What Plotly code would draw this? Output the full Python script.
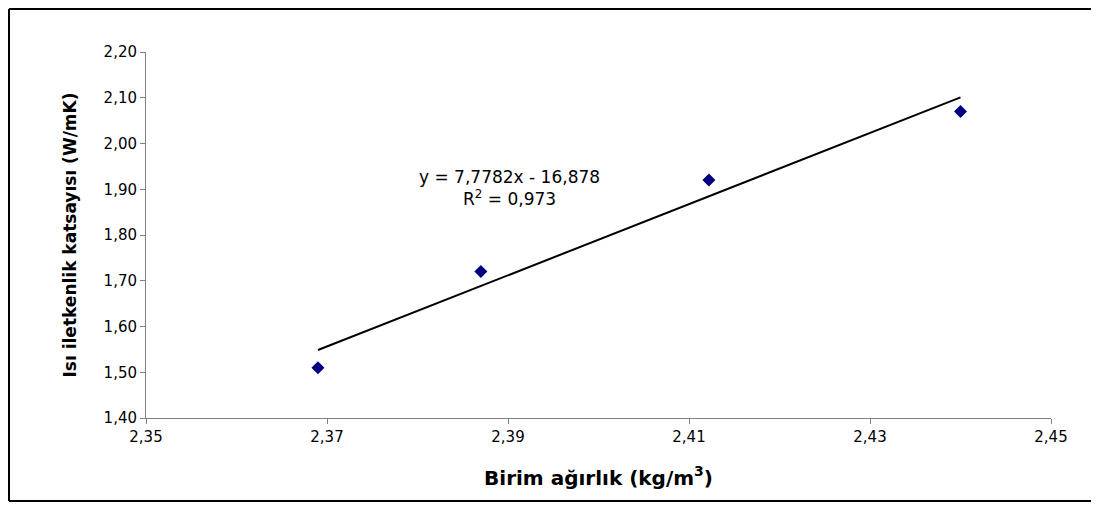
import plotly.graph_objects as go

# Data
birim_agirlik = [2.369, 2.387, 2.4122, 2.44]
isi_iletkenlik = [1.51, 1.72, 1.92, 2.07]
slope = 7.7782
intercept = -16.878
equation_text = "y = 7,7782x - 16,878"
r_squared_text = "0,973"
x_ticks = [2.35, 2.37, 2.39, 2.41, 2.43, 2.45]
y_ticks = [1.40, 1.50, 1.60, 1.70, 1.80, 1.90, 2.00, 2.10, 2.20]

# page has an 8px body margin, so the figure is 8px smaller
W, H = 1091, 498
L, R, T, B = 138, 48, 44, 88
pw, ph = W - L - R, H - T - B

fit_x = [min(birim_agirlik), max(birim_agirlik)]
fit_y = [slope * v + intercept for v in fit_x]

fig = go.Figure()
fig.add_trace(go.Scatter(x=fit_x, y=fit_y, mode="lines",
                         line=dict(color="black", width=2), showlegend=False, hoverinfo="skip"))
fig.add_trace(go.Scatter(x=birim_agirlik, y=isi_iletkenlik, mode="markers",
                         marker=dict(symbol="diamond", color="#000080", size=10),
                         showlegend=False))

font_family = "DejaVu Sans, Liberation Sans, Arial, sans-serif"
fig.update_layout(
    width=W, height=H,
    margin=dict(l=L, r=R, t=T, b=B),
    paper_bgcolor="white", plot_bgcolor="white",
    separators=", ",
    font=dict(family=font_family, size=15, color="black"),
    showlegend=False,
    xaxis=dict(range=[2.35, 2.45], tickvals=x_ticks, tickformat=".2f",
               showgrid=False, zeroline=False, showline=True, linecolor="#808080", linewidth=1,
               ticks="outside", ticklen=5, tickcolor="#808080",
               title=dict(text="<b>Birim ağırlık (kg/m<sup>3</sup>)</b>", font=dict(size=20), standoff=25)),
    yaxis=dict(range=[1.40, 2.20], tickvals=y_ticks, tickformat=".2f",
               showgrid=False, zeroline=False, showline=True, linecolor="#808080", linewidth=1,
               ticks="outside", ticklen=5, tickcolor="#808080",
               title=dict(text="<b>Isı iletkenlik katsayısı (W/mK)</b>", font=dict(size=17), standoff=22)),
)

fig.add_annotation(xref="paper", yref="paper",
                   x=(501 - L) / pw, y=(H - B - 180) / ph,
                   text=equation_text + "<br>R<sup>2</sup> = " + r_squared_text,
                   showarrow=False, font=dict(size=17, family=font_family), align="center")

# outer frame: left, top and bottom edges (right edge lies outside the picture)
fx0, fx1 = (1 - L) / pw, (W + 20 - L) / pw
fy0, fy1 = (H - B - 493) / ph, (H - B - 1) / ph
frame = dict(color="black", width=2)
for x0, y0, x1, y1 in [(fx0, fy0, fx0, fy1), (fx0, fy1, fx1, fy1), (fx0, fy0, fx1, fy0)]:
    fig.add_shape(type="line", xref="paper", yref="paper",
                  x0=x0, y0=y0, x1=x1, y1=y1, line=frame, layer="above")

fig.write_html("out.html")
